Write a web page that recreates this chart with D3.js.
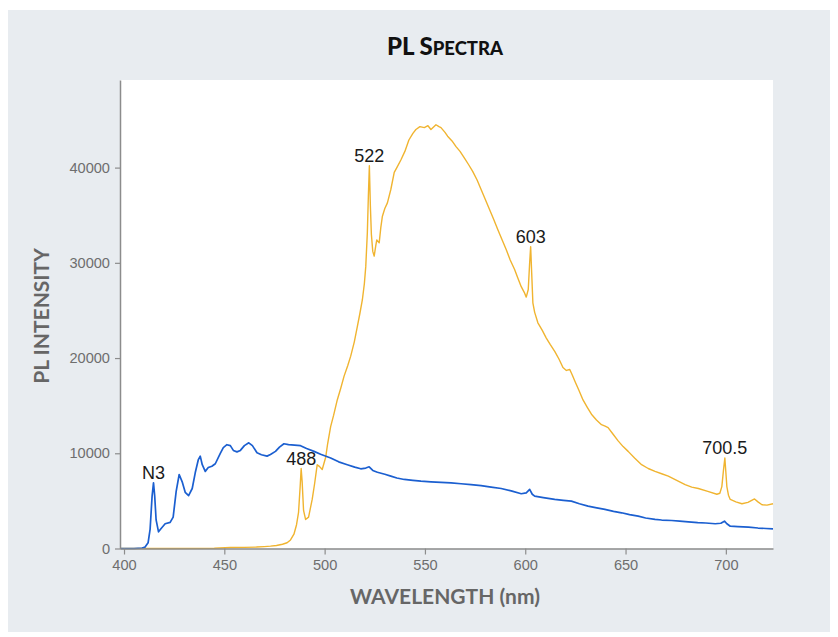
<!DOCTYPE html>
<html><head><meta charset="utf-8">
<script src="https://cdn.jsdelivr.net/npm/d3@7"></script>
<style>html,body{margin:0;padding:0;background:#fff}svg{display:block}</style>
</head><body>
<svg id="chart" width="838" height="637"></svg>
<script>
// ---- data ----
const blueWavelength = [398,405,409,410.5,412,413,414,414.7,415.3,416,417.2,418.5,420.5,423,424.5,426,427.5,429,430.5,432.2,434,435.5,437,438,439,440.5,442,443.8,445.5,448,449.5,451.3,453,454.5,456.3,458,460,462.2,464,466.3,468.5,471.3,473,475.5,477.5,479.7,482,485,488,491,494.7,498,503,507,511.3,515,518,520.5,522.2,524,526.3,530,533,536,539.7,544,548,553,558,563,568,573,578,583,588,593,598,600.5,602.2,603.5,604.7,609,614.7,619,623,627,631.3,635,639.7,644,648,652,656.3,660,664.7,668,673,677,681.3,686,690,694.7,697.5,699.3,700.5,702.2,706,711.3,716,720,723.5];
const blueIntensity = [0,0,50,150,600,2000,5500,6900,5500,3000,1750,2100,2600,2750,3300,6000,7770,7000,5900,5560,6300,7950,9300,9700,8800,8100,8500,8640,8900,10000,10600,10900,10800,10300,10150,10300,10800,11100,10800,10050,9850,9700,9870,10200,10650,11000,10900,10850,10800,10500,10200,9900,9500,9100,8800,8550,8370,8450,8580,8200,8010,7800,7600,7400,7250,7150,7070,7000,6950,6900,6800,6700,6600,6450,6300,6050,5750,5850,6200,5700,5500,5350,5150,5050,4970,4700,4450,4300,4100,3900,3750,3550,3400,3200,3050,2990,2940,2870,2800,2720,2680,2600,2650,2870,2600,2340,2300,2240,2150,2100,2070];

const orangeWavelength = [398,420,445,453,460,466,470,473,476,479,481.3,483,484.7,486,487,487.8,488.3,488.8,489.5,490.5,492,493.8,495,496.3,497.5,498.8,500.5,501.5,503,504.5,506.3,508,509.7,511.5,513,514.8,516.3,517.5,518.8,519.8,520.5,521.3,521.8,522.3,522.8,523.3,524,524.7,525.5,526,527.2,528,528.8,530,531.3,533,534.7,536,538,540,542,544,545.5,547.5,549.7,551.5,553,555.5,557,558,560,561.3,563.5,565.5,567.5,569.7,571.8,573.8,576,578,580,582.2,584.2,586.3,588.5,590.5,592.5,594.7,596.3,598,599.5,600.5,601.5,602.2,602.7,603.2,603.8,604.7,606.3,608.5,610.5,612.5,614.7,616.8,618.8,620.5,622.2,623.5,624.7,626.8,628.8,631,633,635.5,638,639.8,641.3,643.8,646.3,648.8,651.3,654.5,658,661.3,664.7,668,671.3,675.5,679.7,683,686.3,691,695.5,697,698,698.8,699.5,700,700.5,701.3,702.2,705,708,711,714.3,716,718,720.5,723.5];
const orangeIntensity = [0,0,30,100,120,150,200,250,320,450,600,900,1500,2500,3800,6500,8400,7000,4000,3050,3300,5150,6800,8800,8600,8300,9550,11000,12800,14000,15600,16800,18100,19200,20200,21700,23300,24600,26100,27800,29600,33200,37000,40200,36000,33000,31200,30700,31800,32400,32100,33700,34900,35700,36300,37700,39500,40000,40800,41700,42900,43600,44000,44300,44200,44400,44000,44500,44300,44200,43700,43300,42800,42200,41700,41000,40300,39600,38700,37700,36700,35600,34600,33500,32400,31400,30300,29300,28400,27500,26900,26400,27200,30000,31700,29000,25800,24800,23700,22900,22100,21400,20700,19900,19000,18700,18800,18200,17600,16600,15600,14800,14100,13500,13000,12850,12700,12000,11300,10700,10200,9500,8800,8400,8100,7850,7600,7150,6700,6450,6300,6000,5700,5800,6500,8200,9500,8000,6500,5600,5150,4900,4700,4850,5200,4900,4600,4550,4700];

const xTicks = [400,450,500,550,600,650,700];
const yTicks = [0,10000,20000,30000,40000];

const peakLabels = ["N3","488","522","603","700.5"];
const peakWavelength = [414.7,488.3,522.3,602.7,699.5];
const peakIntensity = [6900,8400,40200,31700,9500];

// ---- layout ----
const svg = d3.select("#chart");
const plot = {left:120, right:773, top:80, bottom:548.5};

svg.append("rect").attr("x",8).attr("y",10).attr("width",822).attr("height",622).attr("fill","#e8ecf0");
svg.append("rect").attr("x",plot.left).attr("y",plot.top).attr("width",plot.right-plot.left).attr("height",plot.bottom-plot.top).attr("fill","#ffffff");

const x = d3.scaleLinear().domain([398,723.5]).range([plot.left, plot.right]);
const y = d3.scaleLinear().domain([0,49200]).range([plot.bottom, plot.top]);

const line = d3.line().x(d=>x(d[0])).y(d=>y(d[1]));

const g = svg.append("g");
g.append("path").datum(orangeWavelength.map((w,i)=>[w,orangeIntensity[i]]))
  .attr("d",line).attr("fill","none").attr("stroke","#f0b430").attr("stroke-width",1.4).attr("stroke-linejoin","round");
g.append("path").datum(blueWavelength.map((w,i)=>[w,blueIntensity[i]]))
  .attr("d",line).attr("fill","none").attr("stroke","#1b5fd0").attr("stroke-width",1.7).attr("stroke-linejoin","round");

// axes
const axisColor = "#8c8c8c", tickText = "#6e6e6e";
const xAxis = svg.append("g").attr("transform",`translate(0,${plot.bottom})`)
  .call(d3.axisBottom(x).tickValues(xTicks).tickSize(6).tickSizeOuter(0).tickPadding(5));
const yAxis = svg.append("g").attr("transform",`translate(${plot.left},0)`)
  .call(d3.axisLeft(y).tickValues(yTicks).tickSize(5).tickSizeOuter(0).tickPadding(5).tickFormat(d3.format("d")));
[xAxis,yAxis].forEach(a=>{
  a.select(".domain").attr("stroke",axisColor).attr("stroke-width",1.5);
  a.selectAll(".tick line").attr("stroke",axisColor).attr("stroke-width",1.2);
  a.selectAll(".tick text").attr("fill",tickText).style("font-family","'Liberation Sans',Arial,sans-serif").style("font-size","14.6px");
});

// peak labels
svg.append("g").selectAll("text").data(peakLabels).join("text")
  .attr("x",(d,i)=>x(peakWavelength[i]))
  .attr("y",(d,i)=>y(peakIntensity[i])-4)
  .attr("text-anchor","middle")
  .style("font-family","'Liberation Sans',Arial,sans-serif").style("font-size","18px").attr("fill","#1a1a1a")
  .text(d=>d);

// title
const t = svg.append("text").attr("x",445).attr("y",55).attr("text-anchor","middle")
  .style("font-family","Lato,sans-serif").style("font-weight","900").attr("fill","#111");
t.append("tspan").style("font-size","24px").text("PL S");
t.append("tspan").style("font-size","18.5px").text("PECTRA");

// axis titles
svg.append("text").attr("x",445).attr("y",604).attr("text-anchor","middle")
  .style("font-family","Lato,sans-serif").style("font-weight","700").style("font-size","21px").attr("fill","#666")
  .text("WAVELENGTH (nm)");
svg.append("text").attr("transform","translate(49,316) rotate(-90)").attr("text-anchor","middle")
  .style("font-family","Lato,sans-serif").style("font-weight","700").style("font-size","21px").attr("fill","#666")
  .text("PL INTENSITY");
</script>
</body></html>
